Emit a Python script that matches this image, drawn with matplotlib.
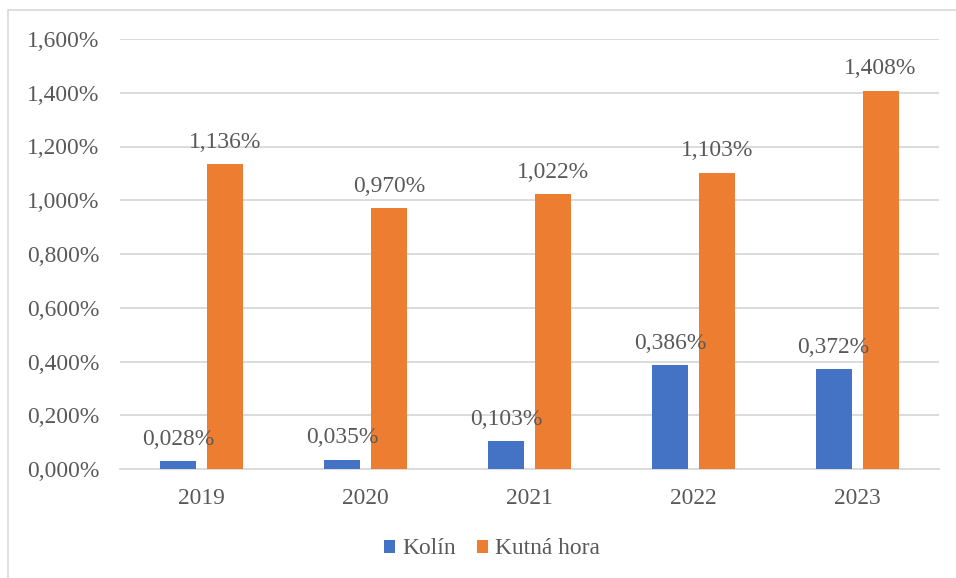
import matplotlib
matplotlib.use("Agg")
import matplotlib.pyplot as plt
from matplotlib.patches import Rectangle, Patch
import numpy as np

years = ["2019", "2020", "2021", "2022", "2023"]
kolin = [0.028, 0.035, 0.103, 0.386, 0.372]
kutna_hora = [1.136, 0.970, 1.022, 1.103, 1.408]
series_names = ["Kolín", "Kutná hora"]
yticks = [0.0, 0.2, 0.4, 0.6, 0.8, 1.0, 1.2, 1.4, 1.6]

BLUE = "#4472C4"
ORANGE = "#ED7D31"
TXT = "#595959"
GRID = "#D9D9D9"
FS = 16.9

plt.rcParams["font.family"] = ["Liberation Serif", "DejaVu Serif"]

W, H = 956, 578
fig = plt.figure(figsize=(W / 100, H / 100), dpi=100)

# outer chart border (only left/top visible)
fig.patches.append(Rectangle((8 / W, -0.1), 2.0, 1 - 10 / H + 0.1, transform=fig.transFigure,
                             fill=False, edgecolor=GRID, linewidth=1.2, zorder=0))

ax = fig.add_axes([120 / W, 1 - 469 / H, (939 - 120) / W, (469 - 39) / H])

def fmt(v):
    return f"{v:.3f}".replace(".", ",") + "%"

x = np.arange(len(years))
bw = 0.22
off = 0.143
b1 = ax.bar(x - off, kolin, bw, color=BLUE, zorder=3)
b2 = ax.bar(x + off, kutna_hora, bw, color=ORANGE, zorder=3)

for bars, vals in ((b1, kolin), (b2, kutna_hora)):
    for rect, v in zip(bars, vals):
        ax.annotate(fmt(v), (rect.get_x() + rect.get_width() / 2, v),
                    xytext=(0, 8), textcoords="offset points",
                    ha="center", va="bottom", fontsize=FS, color=TXT, zorder=4)

ax.set_xlim(-0.5, len(years) - 0.5)
ax.set_ylim(0, 1.6)
ax.set_yticks(yticks)
ax.set_yticklabels([fmt(v) for v in yticks])
ax.set_xticks(x)
ax.set_xticklabels(years)
ax.tick_params(axis="y", length=0, pad=15, labelsize=FS, labelcolor=TXT)
ax.tick_params(axis="x", length=0, pad=14, labelsize=FS, labelcolor=TXT)
ax.yaxis.grid(True, color=GRID, linewidth=1.3, zorder=0)
ax.set_axisbelow(True)
for s in ("top", "right", "left"):
    ax.spines[s].set_visible(False)
ax.spines["bottom"].set_color(GRID)
ax.spines["bottom"].set_linewidth(1.3)

handles = [Patch(facecolor=BLUE), Patch(facecolor=ORANGE)]
fig.legend(handles, series_names, loc="center", bbox_to_anchor=(492 / W, 1 - 549 / H),
           ncol=2, frameon=False, fontsize=FS, labelcolor=TXT,
           handlelength=0.47, handleheight=0.47, handletextpad=0.3,
           columnspacing=0.9)

fig.savefig("out.png", dpi=100)
